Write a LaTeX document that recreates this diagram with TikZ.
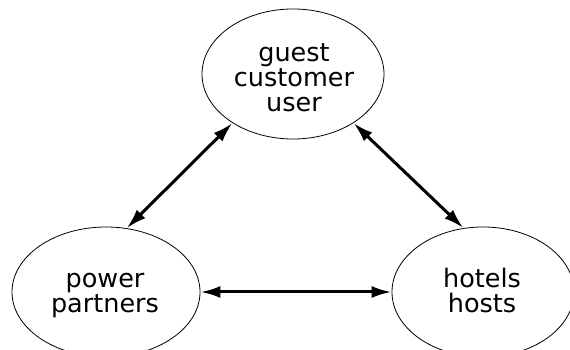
\documentclass[tikz,border=0pt]{standalone}
\usepackage{fontspec}
\setmainfont{DejaVu Sans}
\usetikzlibrary{shapes.geometric,arrows.meta}
\begin{document}
\begin{tikzpicture}[x=1pt,y=1pt,
  blob/.style={ellipse, draw, line width=0.8pt, inner sep=0pt},
  lbl/.style={align=center, font=\fontsize{25.5pt}{25pt}\selectfont},
  dbl/.style={{Latex[length=20pt,width=12pt]}-{Latex[length=20pt,width=12pt]}, line width=3pt}]
\useasboundingbox (0,0) rectangle (570,350);

\node[blob, minimum width=182pt, minimum height=130pt] (U) at (293,276) {};
\node[blob, minimum width=188pt, minimum height=130pt] (P) at (106,58) {};
\node[blob, minimum width=182pt, minimum height=130pt] (H) at (483,58) {};

\node[lbl] (Ut) at (294,272) {guest\\customer\\user};
\node[lbl] (Pt) at (105,54) {power\\partners};
\node[lbl] (Ht) at (482,60) {hotels\\hosts};

\path[dbl] (U.219) edge (P.72);
\path[dbl] (U.321) edge (H.107);
\path[dbl] (P.east) edge (H.west);
\end{tikzpicture}
\end{document}
